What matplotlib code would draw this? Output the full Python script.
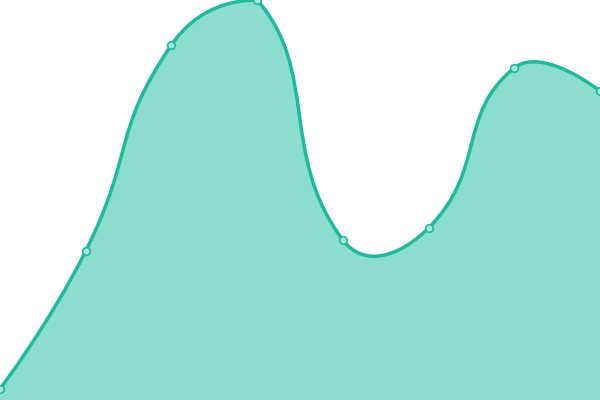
import numpy as np
import matplotlib
matplotlib.use("Agg")
import matplotlib.pyplot as plt
from matplotlib.path import Path
from matplotlib.patches import PathPatch

# data
x = np.arange(8)
values = [11, 149, 355, 400, 160, 172, 332, 309]

line_color = "#1abc9c"
smooth = 0.5

fig = plt.figure(figsize=(6, 4), dpi=100)
ax = fig.add_axes([0, 0, 1, 1])
ax.set_xlim(0, 7)
ax.set_ylim(0, 400)
ax.axis("off")

# smooth bezier like echarts, computed in screen space,
# control points kept inside the bounding box of the points
pts = ax.transData.transform(np.column_stack([x, values]))
lo, hi = pts.min(axis=0), pts.max(axis=0)
n = len(pts)
cp_prev = pts.copy()
cp_next = pts.copy()
for i in range(1, n - 1):
    v = (pts[i + 1] - pts[i - 1]) * smooth
    d0 = np.hypot(*(pts[i] - pts[i - 1]))
    d1 = np.hypot(*(pts[i + 1] - pts[i]))
    s = d0 + d1
    cp_prev[i] = np.clip(pts[i] - v * d0 / s, lo, hi)
    cp_next[i] = np.clip(pts[i] + v * d1 / s, lo, hi)

verts = [pts[0]]
codes = [Path.MOVETO]
for i in range(n - 1):
    verts += [cp_next[i], cp_prev[i + 1], pts[i + 1]]
    codes += [Path.CURVE4] * 3
inv = ax.transData.inverted()
verts = inv.transform(np.array(verts))

line_path = Path(verts, codes)
fill_verts = np.vstack([verts, [[x[-1], 0], [x[0], 0], verts[0]]])
fill_codes = codes + [Path.LINETO, Path.LINETO, Path.CLOSEPOLY]
fill_path = Path(fill_verts, fill_codes)

ax.add_patch(PathPatch(fill_path, facecolor=line_color, alpha=0.5, edgecolor="none"))
ax.add_patch(PathPatch(line_path, facecolor="none", edgecolor=line_color, lw=2.5))
ax.plot(x, values, "o", ms=5.5, mfc="#a6e8db", mec=line_color, mew=1.2, clip_on=True)

fig.savefig("out.png", dpi=100)
